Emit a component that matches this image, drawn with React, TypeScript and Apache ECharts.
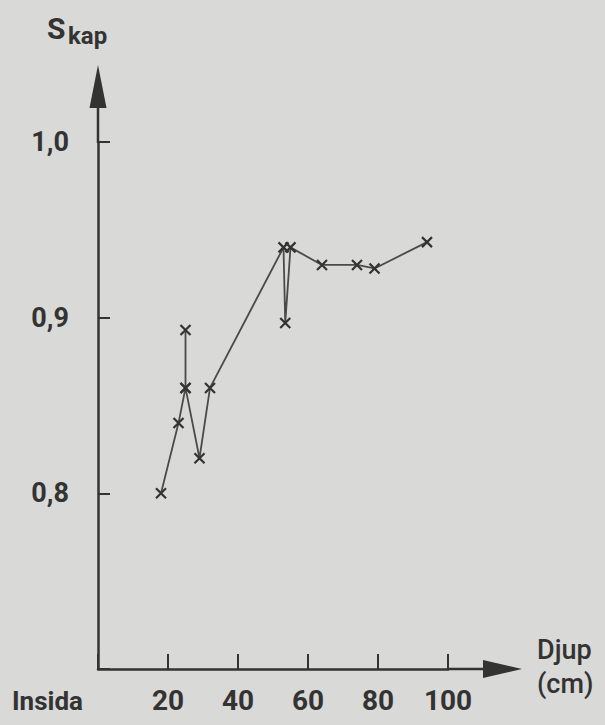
import React, { useEffect, useRef } from "react";
import * as echarts from "echarts";

// Depth (cm) and capillary saturation readings, in drawing order
const depthCm = [18, 23, 25, 25, 25, 29, 32, 53, 53.5, 55, 64, 74, 79, 94];
const skap = [0.8, 0.84, 0.86, 0.893, 0.86, 0.82, 0.86, 0.94, 0.897, 0.94, 0.93, 0.93, 0.928, 0.943];
const xTickLabels = [20, 40, 60, 80, 100];
const yTickLabels = [0.8, 0.9, 1.0];

const INK = "#333333";
const BG = "#d9d9d7";
const FONT = "Roboto, 'DejaVu Sans', sans-serif";

export default function App() {
  const ref = useRef<HTMLDivElement>(null);
  useEffect(() => {
    if (!ref.current) return;
    const chart = echarts.init(ref.current, null, { renderer: "svg" });
    const data = depthCm.map((d, i) => [d, skap[i]]);
    chart.setOption({
      animation: false,
      backgroundColor: BG,
      grid: { left: 98, right: 157, top: 142, bottom: 56 },
      xAxis: {
        type: "value",
        min: 0,
        max: 100,
        interval: 20,
        splitLine: { show: false },
        axisLine: { show: true, lineStyle: { color: INK, width: 2.5 } },
        axisTick: { show: true, inside: true, length: 15, lineStyle: { color: INK, width: 2 } },
        axisLabel: {
          margin: 17,
          fontSize: 28,
          fontWeight: "bold",
          fontFamily: FONT,
          color: INK,
          formatter: (v: number) => (xTickLabels.includes(v) ? String(v) : ""),
        },
      },
      yAxis: {
        type: "value",
        min: 0.7,
        max: 1.0,
        interval: 0.1,
        splitLine: { show: false },
        axisLine: { show: true, lineStyle: { color: INK, width: 2.5 } },
        axisTick: { show: true, inside: true, length: 12, lineStyle: { color: INK, width: 2 } },
        axisLabel: {
          margin: 29,
          fontSize: 27,
          fontWeight: "bold",
          fontFamily: FONT,
          color: INK,
          formatter: (v: number) => {
            const r = Math.round(v * 10) / 10;
            return yTickLabels.includes(r) ? r.toFixed(1).replace(".", ",") : "";
          },
        },
      },
      series: [
        {
          type: "line",
          data,
          symbol: "path://M0,0L10,10M10,0L0,10",
          symbolSize: 10,
          showSymbol: true,
          lineStyle: { color: "#4a4a4a", width: 1.8 },
          itemStyle: { color: "none", borderColor: "#333333", borderWidth: 2.2 },
          emphasis: { disabled: true },
        },
      ],
      graphic: [
        // axis extensions with arrow heads
        { type: "line", shape: { x1: 448, y1: 669, x2: 490, y2: 669 }, style: { stroke: INK, lineWidth: 2.5 } },
        { type: "polygon", shape: { points: [[522, 669], [483, 660], [483, 678]] }, style: { fill: INK } },
        { type: "line", shape: { x1: 98, y1: 143, x2: 98, y2: 100 }, style: { stroke: INK, lineWidth: 2.5 } },
        { type: "polygon", shape: { points: [[98, 65], [89.5, 108], [106.5, 108]] }, style: { fill: INK } },
        {
          type: "text",
          left: 47,
          top: 13,
          style: { text: "S", fontSize: 30, fontWeight: "bold", fontFamily: FONT, fill: INK },
        },
        {
          type: "text",
          left: 68,
          top: 24,
          style: { text: "kap", fontSize: 24, fontWeight: "bold", fontFamily: FONT, fill: INK },
        },
        {
          type: "text",
          left: 12,
          top: 688,
          style: { text: "Insida", fontSize: 26, fontWeight: "bold", fontFamily: FONT, fill: INK },
        },
        {
          type: "text",
          left: 537,
          top: 636,
          style: { text: "Djup", fontSize: 27, fontWeight: 500, fontFamily: FONT, fill: INK },
        },
        {
          type: "text",
          left: 537,
          top: 670,
          style: { text: "(cm)", fontSize: 27, fontWeight: 500, fontFamily: FONT, fill: INK },
        },
      ],
    });
    return () => chart.dispose();
  }, []);
  return (
    <div
      ref={ref}
      style={{ position: "fixed", left: 0, top: 0, width: 605, height: 725 }}
    />
  );
}
